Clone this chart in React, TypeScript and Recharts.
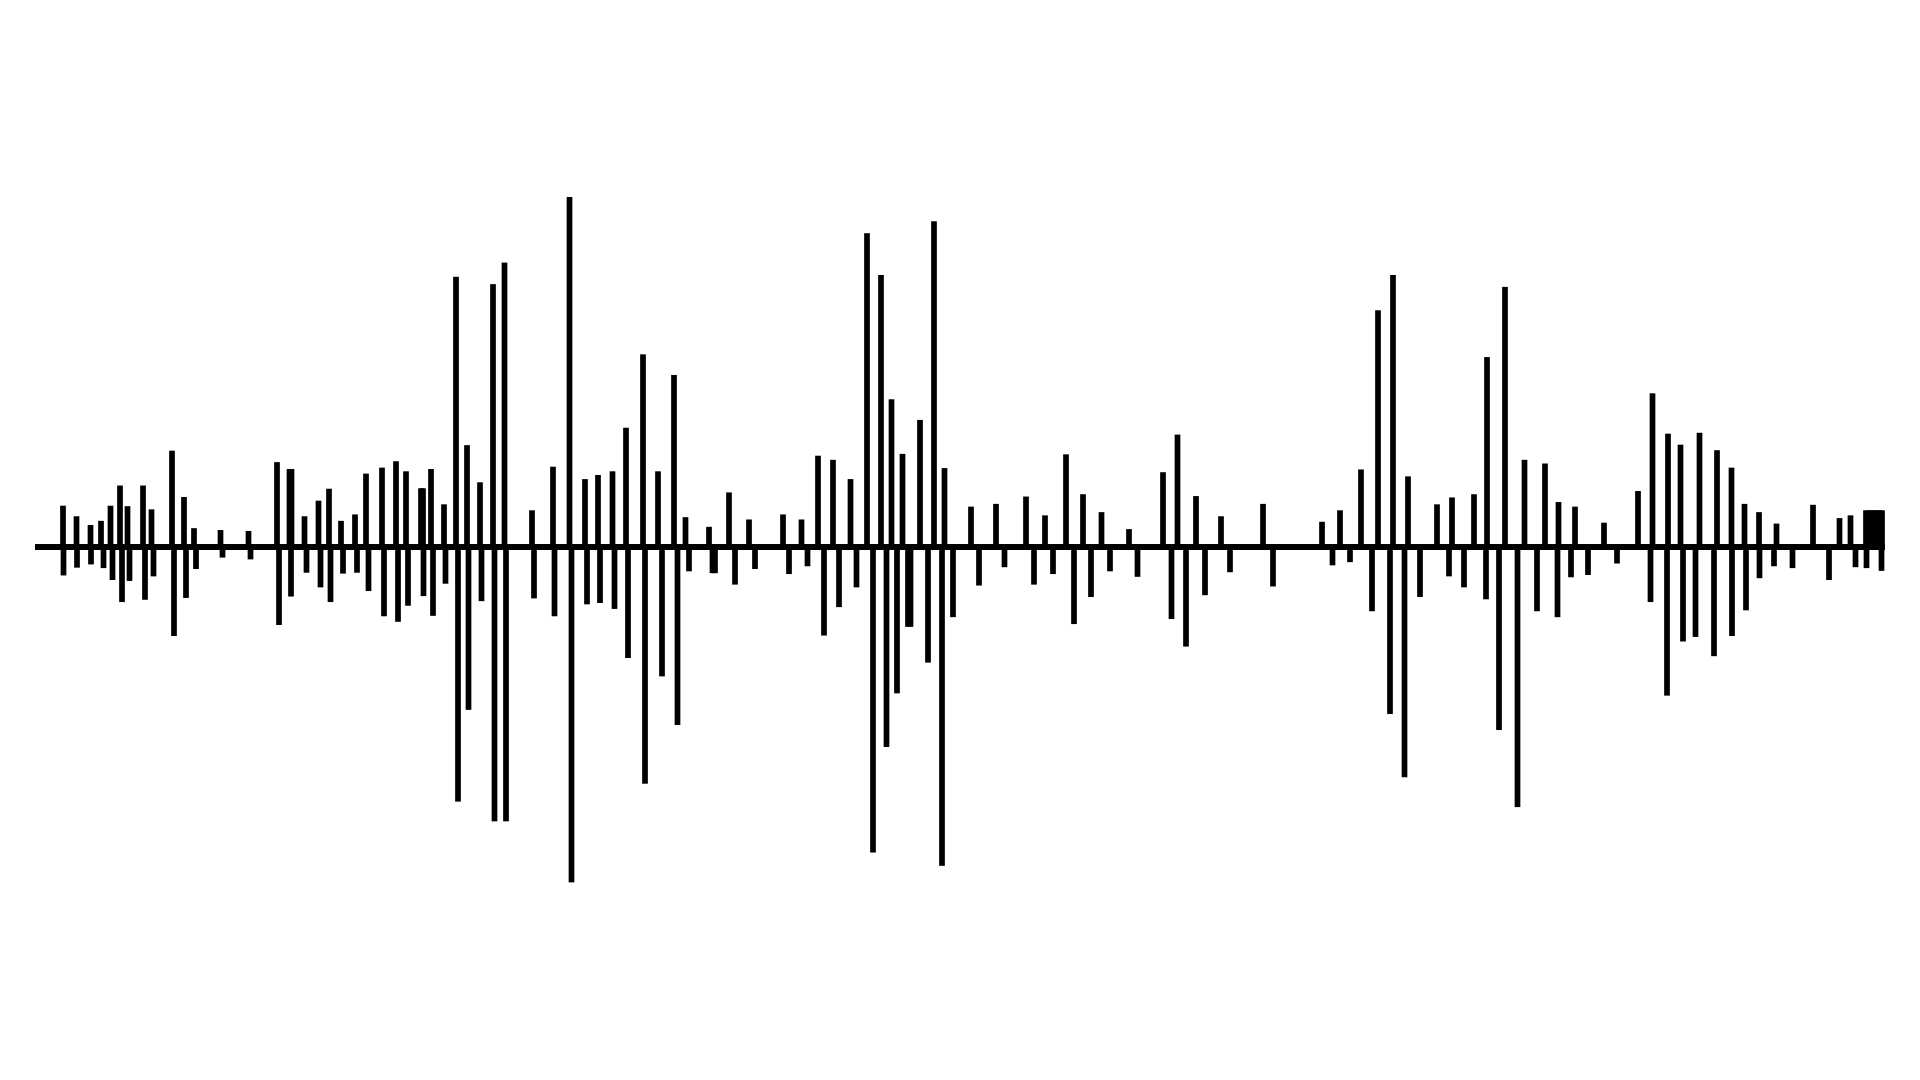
import { BarChart, Bar, XAxis, YAxis, ReferenceLine } from 'recharts';

// waveform peaks above the baseline: time (ms) and amplitude
const peakTimes = [
  56, 83, 111, 132, 151, 170, 185, 216, 233, 274, 298, 318, 371, 427, 484, 509, 513, 539, 567, 588,
  612, 640, 662, 694, 722, 742, 772, 776, 792, 818, 842, 864, 890, 916, 939, 994, 1036, 1069, 1100, 1126,
  1155, 1182, 1216, 1246, 1278, 1301, 1348, 1388, 1428, 1496, 1533, 1566, 1596, 1631, 1664, 1692, 1713, 1735, 1770, 1798,
  1819, 1872, 1922, 1982, 2020, 2062, 2096, 2133, 2188, 2256, 2285, 2322, 2372, 2456, 2574, 2610, 2652, 2686, 2716, 2746,
  2804, 2834, 2878, 2904, 2940, 2979, 3020, 3047, 3080, 3138, 3206, 3235, 3266, 3291, 3329, 3364, 3393, 3419, 3448, 3483,
  3556, 3609, 3631, 3662, 3667, 3673, 3678, 3684, 3689, 3694
];
const peakAmps = [
  90, 67, 48, 57, 90, 134, 89, 134, 82, 210, 109, 41, 37, 35, 185, 170, 170, 67, 101, 127,
  57, 71, 160, 173, 187, 165, 128, 128, 170, 93, 589, 222, 141, 573, 620, 80, 175, 763, 148, 157,
  165, 260, 420, 165, 375, 65, 44, 119, 60, 71, 60, 199, 190, 148, 684, 593, 322, 203, 277, 710,
  172, 88, 94, 110, 69, 202, 115, 76, 39, 163, 245, 111, 67, 94, 55, 80, 169, 516, 593, 154,
  93, 108, 115, 414, 567, 190, 182, 98, 88, 53, 122, 335, 247, 223, 249, 211, 173, 94, 76, 51,
  92, 63, 69, 80, 80, 80, 80, 80, 80, 80
];

// waveform troughs below the baseline: time (ms) and depth
const troughTimes = [
  57, 84, 112, 137, 155, 174, 189, 220, 237, 278, 302, 322, 375, 431, 488, 512, 543, 571, 591, 616,
  644, 667, 698, 726, 746, 777, 796, 821, 846, 867, 893, 919, 942, 998, 1039, 1073, 1104, 1130, 1159, 1186,
  1220, 1254, 1285, 1308, 1355, 1360, 1400, 1440, 1508, 1545, 1578, 1608, 1643, 1676, 1703, 1724, 1746, 1751, 1786, 1814,
  1836, 1888, 1939, 1998, 2036, 2078, 2112, 2150, 2205, 2273, 2302, 2340, 2390, 2476, 2595, 2630, 2674, 2710, 2739, 2770,
  2828, 2858, 2902, 2928, 2965, 3004, 3045, 3072, 3106, 3164, 3231, 3264, 3296, 3321, 3358, 3394, 3422, 3449, 3478, 3515,
  3588, 3641, 3663, 3693
];
const troughDepths = [
  62, 45, 38, 46, 72, 120, 74, 115, 64, 194, 111, 48, 23, 27, 170, 108, 56, 88, 120, 58,
  56, 96, 151, 163, 128, 107, 150, 80, 555, 355, 118, 598, 598, 112, 151, 731, 125, 122, 135, 242,
  516, 282, 388, 53, 57, 57, 82, 48, 59, 42, 193, 131, 88, 666, 436, 319, 174, 174, 252, 695,
  153, 84, 44, 82, 59, 168, 109, 53, 65, 157, 217, 105, 55, 86, 40, 33, 140, 364, 502, 109,
  64, 88, 114, 399, 567, 140, 153, 66, 61, 36, 120, 324, 206, 196, 238, 194, 138, 68, 42, 46,
  72, 44, 46, 52
];

const data = [
  ...peakTimes.map((t, i) => ({ t, amp: peakAmps[i] })),
  ...troughTimes.map((t, i) => ({ t, amp: -troughDepths[i] })),
].sort((a, b) => a.t - b.t);

const STEM_WIDTH = 5.7;

// draw each bar as a fixed-width stem centred on the slot Recharts computes
function Stem(props: any) {
  const { x, y, width, height } = props;
  if (x == null || y == null || height == null) return null;
  const top = Math.min(y, y + height);
  const h = Math.abs(height);
  const cx = x + width / 2;
  return <rect x={cx - STEM_WIDTH / 2} y={top} width={STEM_WIDTH} height={h} fill="#000" />;
}

export default function App() {
  return (
    <div style={{ width: 1904, height: 1064, background: '#fff' }}>
      <BarChart
        width={1904}
        height={1064}
        data={data}
        margin={{ top: 172, right: 27, bottom: 158, left: 27 }}
      >
        <XAxis type="number" dataKey="t" domain={[0, 3700]} hide />
        <YAxis type="number" domain={[-800, 800]} hide />
        <Bar dataKey="amp" fill="#000" shape={<Stem />} isAnimationActive={false} />
        <ReferenceLine y={0} stroke="#000" strokeWidth={6} />
      </BarChart>
    </div>
  );
}
